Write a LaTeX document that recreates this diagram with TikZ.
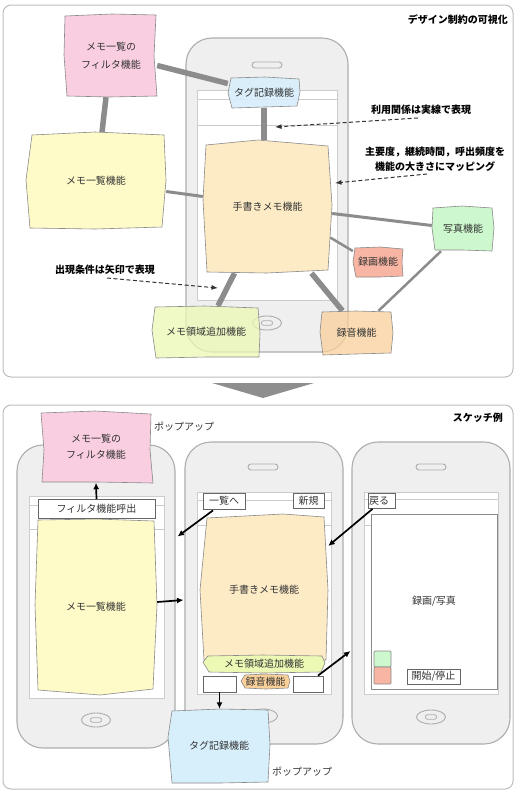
\documentclass[tikz,border=0pt]{standalone}
\usepackage{fontspec}
\setmainfont{Noto Sans CJK JP}
\usetikzlibrary{arrows.meta,shapes.geometric,calc}
\definecolor{pinkc}{HTML}{F9CEE0}
\definecolor{bluec}{HTML}{D7EEFB}
\definecolor{yellowc}{HTML}{FFFBC9}
\definecolor{orangec}{HTML}{FDEBC6}
\definecolor{greenc}{HTML}{CDF7CD}
\definecolor{redc}{HTML}{F8B5A3}
\definecolor{ygc}{HTML}{ECF9B5}
\definecolor{rokuc}{HTML}{F9D09A}
\definecolor{edgec}{HTML}{8A8A8A}
\definecolor{linkc}{HTML}{8C8C8C}
\definecolor{txt}{HTML}{333333}
\definecolor{phonefill}{HTML}{EFEFEF}
\definecolor{phoneedge}{HTML}{ADADAD}
\definecolor{scredge}{HTML}{CCCCCC}
\definecolor{uiedge}{HTML}{666666}
\definecolor{paneledge}{HTML}{BDBDBD}
\definecolor{chevc}{HTML}{8E8E8E}
\pgfdeclarelayer{phonelayer}
\pgfdeclarelayer{linklayer}
\pgfdeclarelayer{shapelayer}
\pgfsetlayers{phonelayer,linklayer,shapelayer,main}
\begin{document}
\begin{tikzpicture}[x=1pt,y=-1pt,
  lbl/.style={font=\fontsize{10}{12}\selectfont, text=txt, inner sep=0pt, align=center},
  skline/.style={draw=edgec, line width=0.6pt, line join=round},
  lnkfat/.style={draw=linkc, line width=5.5pt},
  lnkmid/.style={draw=linkc, line width=3pt},
  lnkthin/.style={draw=linkc, line width=2.5pt},
  ann/.style={font=\bfseries\fontsize{10}{15}\selectfont, text=black, align=center, inner sep=0pt},
  dasharrow/.style={draw=txt, dash pattern=on 4pt off 2.5pt, line width=1pt, -{Latex[length=6.5pt,width=5pt]}},
  blackarrow/.style={draw=black, line width=1.7pt, -{Latex[length=6.5pt,width=6pt]}},
  phonebody/.style={draw=phoneedge, fill=phonefill, line width=1.1pt, rounded corners=26pt, inner sep=0pt},
  scrbox/.style={draw=scredge, fill=white, line width=0.8pt, inner sep=0pt},
  scrline/.style={draw=scredge, line width=0.8pt},
  speaker/.style={draw=phoneedge, fill=phonefill, line width=0.9pt, rounded corners=3pt, minimum width=30pt, minimum height=6pt, inner sep=0pt},
  homebtn/.style={ellipse, draw=phoneedge, fill=phonefill, line width=0.9pt, minimum width=29pt, minimum height=14pt, inner sep=0pt},
  homein/.style={draw=phoneedge, line width=0.8pt, rounded corners=2pt, minimum width=11pt, minimum height=4.5pt, inner sep=0pt},
  uibox/.style={draw=uiedge, fill=white, line width=0.8pt, inner sep=0pt, font=\fontsize{10}{12}\selectfont, text=txt},
  sqbox/.style={draw=edgec, line width=0.7pt, rounded corners=1pt, inner sep=0pt},
  panel/.style={draw=paneledge, fill=white, line width=1pt, rounded corners=8pt},
  poplbl/.style={font=\fontsize{10}{12}\selectfont, text=txt, inner sep=0pt},
]
\useasboundingbox (0,0) rectangle (525,796);

% ---------------- panels and phones ----------------
\begin{pgfonlayer}{phonelayer}
\path[panel] (3,5) rectangle (513,377);
\path[panel] (3,405) rectangle (513,789);
% top phone
\node[phonebody, minimum width=162pt, minimum height=314pt] (phT) at (267,195) {};
\node[scrbox, minimum width=140pt, minimum height=210pt] (scT) at (267,195) {};
\draw[scrline] ([yshift=-10pt]scT.north west) -- ([yshift=-10pt]scT.north east);
\draw[scrline] ([yshift=-36pt]scT.north west) -- ([yshift=-36pt]scT.north east);
\node[speaker] (spT) at (267,65) {};
\node[homebtn] (hbT) at (267,323) {};
\node[homein] (hiT) at (hbT) {};
% bottom left phone
\node[phonebody, minimum width=158pt, minimum height=303pt] (phL) at (96,596.5) {};
\node[scrbox, minimum width=135pt, minimum height=202pt] (scL) at (96.5,597) {};
\draw[scrline] ([yshift=-10pt]scL.north west) -- ([yshift=-10pt]scL.north east);
\draw[scrline] ([yshift=-34pt]scL.north west) -- ([yshift=-34pt]scL.north east);
\node[speaker] (spL) at (96,469) {};
\node[homebtn] (hbL) at (96,720) {};
\node[homein] (hiL) at (hbL) {};
% bottom middle phone
\node[phonebody, minimum width=158pt, minimum height=302pt] (phM) at (264,593) {};
\node[scrbox, minimum width=134pt, minimum height=202pt] (scM) at (264,593) {};
\draw[scrline] ([yshift=-9pt]scM.north west) -- ([yshift=-9pt]scM.north east);
\draw[scrline] ([yshift=-34pt]scM.north west) -- ([yshift=-34pt]scM.north east);
\node[speaker] (spM) at (263,467) {};
\node[homebtn] (hbM) at (263,716) {};
\node[homein] (hiM) at (hbM) {};
% bottom right phone
\node[phonebody, minimum width=158pt, minimum height=302pt] (phR) at (431,593) {};
\node[scrbox, minimum width=134pt, minimum height=202pt] (scR) at (431.5,593) {};
\draw[scrline] ([yshift=-8pt]scR.north west) -- ([yshift=-8pt]scR.north east);
\draw[scrline] ([yshift=-34pt]scR.north west) -- ([yshift=-34pt]scR.north east);
\node[speaker] (spR) at (431,467) {};
\node[homebtn] (hbR) at (431,717) {};
\node[homein] (hiR) at (hbR) {};
\end{pgfonlayer}

% ---------------- titles ----------------
\node[ann, anchor=east] (title1) at (508,20) {デザイン制約の可視化};
\node[ann, anchor=east] (title2) at (503,418) {スケッチ例};

% ---------------- top panel nodes ----------------
\node[lbl, minimum width=92pt, minimum height=83pt, font=\fontsize{10}{18}\selectfont] (P1) at (111,55.5) {メモ一覧の\\フィルタ機能};
\node[lbl, minimum width=72pt, minimum height=31pt] (T1) at (264,92.5) {タグ記録機能};
\node[lbl, minimum width=140pt, minimum height=96pt] (Y1) at (96,180.5) {メモ一覧機能};
\node[lbl, minimum width=129pt, minimum height=133pt] (H1) at (267.5,206.5) {手書きメモ機能};
\node[lbl, minimum width=62pt, minimum height=45pt] (G1) at (463,228.5) {写真機能};
\node[lbl, minimum width=50pt, minimum height=30pt] (R1) at (378,262) {録画機能};
\node[lbl, minimum width=108pt, minimum height=52pt] (M1) at (206,332) {メモ領域追加機能};
\node[lbl, minimum width=73pt, minimum height=44pt] (O1) at (356.5,333) {録音機能};

\begin{pgfonlayer}{shapelayer}
\filldraw[fill=pinkc, skline] (65,16) -- (112,14) -- (156,15) -- (154,56) -- (157,96) -- (110,97) -- (67,96) -- (64,55) -- cycle;
\filldraw[fill=bluec, fill opacity=0.9, skline] (231,78) -- (265,77) -- (299,79) -- (300,92) -- (297,106) -- (265,107) -- (232,108) -- (228,93) -- cycle;
\filldraw[fill=yellowc, skline] (32,135) -- (95,132) -- (164,135) -- (166,180) -- (162,227) -- (95,229) -- (30,228) -- (26,180) -- cycle;
\filldraw[fill=orangec, skline] (206,145) -- (258,140) -- (328,146) -- (332,205) -- (328,270) -- (267,273) -- (207,272) -- (203,200) -- cycle;
\filldraw[fill=greenc, skline] (433,208) -- (462,206) -- (492,208) -- (494,228) -- (492,251) -- (462,250) -- (435,250) -- (432,228) -- cycle;
\filldraw[fill=redc, skline] (355,248) -- (380,247) -- (403,249) -- (402,262) -- (403,276) -- (380,277) -- (356,277) -- (353,262) -- cycle;
\filldraw[fill=ygc, fill opacity=0.75, skline] (155,307) -- (205,306) -- (258,308) -- (260,333) -- (259,357) -- (207,357) -- (156,358) -- (152,330) -- cycle;
\filldraw[fill=rokuc, fill opacity=0.75, skline] (322,312) -- (356,311) -- (391,312) -- (393,333) -- (391,353) -- (356,354) -- (323,355) -- (320,332) -- cycle;
\end{pgfonlayer}

\begin{pgfonlayer}{linklayer}
\draw[lnkfat] ([xshift=-5pt]P1.south) -- ([xshift=6pt]Y1.north);
\draw[lnkfat] ([yshift=-10pt]P1.east) -- ([yshift=9pt]T1.west);
\draw[lnkfat] (T1.south) -- ([xshift=-3.5pt]H1.north);
\draw[lnkmid] ([yshift=-11pt]Y1.east) -- ([yshift=10pt]H1.west);
\draw[lnkmid] ([yshift=-7pt]H1.east) -- ([yshift=3pt]G1.west);
\draw[lnkthin] ([xshift=-2pt,yshift=-31pt]H1.east) -- ([yshift=11pt]R1.west);
\draw[lnkfat] ([xshift=-33pt]H1.south) -- ([xshift=12pt]M1.north);
\draw[lnkfat] ([xshift=44pt]H1.south) -- ([xshift=-14pt]O1.north);
\draw[lnkthin] ([xshift=-22pt]G1.south) -- ([xshift=22pt]O1.north);
\end{pgfonlayer}

% annotations
\node[ann] (A1) at (421,110) {利用関係は実線で表現};
\node[ann] (A2) at (435,159.5) {主要度，継続時間，呼出頻度を\\機能の大きさにマッピング};
\node[ann] (A3) at (105,270) {出現条件は矢印で表現};
\coordinate (tA1) at (275,127);
\coordinate (tA2) at (335,183);
\coordinate (tA3) at (218,288);
\draw[dasharrow] ([xshift=-3pt,yshift=-3pt]A1.south) -- (tA1);
\draw[dasharrow] ([xshift=-8pt,yshift=-2pt]A2.south) -- (tA2);
\draw[dasharrow] ([xshift=2pt,yshift=-3pt]A3.south) -- (tA3);

% chevron
\fill[chevc] (212,383) -- (314,383) -- (263,398) -- cycle;

% ---------------- bottom panel ----------------
% left phone
\node[uibox, minimum width=117pt, minimum height=19pt] (fbtn) at (96.5,509) {フィルタ機能呼出};
\node[lbl, minimum width=114pt, minimum height=71pt, font=\fontsize{10}{16}\selectfont] (P2) at (96,447) {メモ一覧の\\フィルタ機能};
\node[lbl, minimum width=122pt, minimum height=176pt] (Y2) at (96,607) {メモ一覧機能};
\node[poplbl] (pop1) at (184,427) {ポップアップ};
% middle phone
\node[uibox, minimum width=42pt, minimum height=16pt] (btnList) at (224,501) {一覧へ};
\node[uibox, minimum width=31pt, minimum height=15pt] (btnNew) at (308.5,500.5) {新規};
\node[lbl, minimum width=128pt, minimum height=150pt] (H2) at (264,590) {手書きメモ機能};
\node[lbl, minimum width=122pt, minimum height=17pt] (M2) at (264,664) {メモ領域追加機能};
\node[lbl, minimum width=49pt, minimum height=15pt] (O2) at (265.5,681.5) {録音機能};
\node[uibox, minimum width=33pt, minimum height=16pt] (wbL) at (219.5,684) {};
\node[uibox, minimum width=30pt, minimum height=16pt] (wbR) at (308,684) {};
\node[lbl, minimum width=102pt, minimum height=74pt] (B2) at (219,746) {タグ記録機能};
\node[poplbl] (pop2) at (302,772) {ポップアップ};
% right phone
\node[uibox, draw=edgec, minimum width=126pt, minimum height=175pt] (rview) at (434,601.5) {録画/写真};
\node[uibox, minimum width=27pt, minimum height=15pt, text width=25pt, align=left] (btnBack) at (381.5,501) {戻る};
\node[sqbox, fill=greenc, minimum width=17pt, minimum height=16pt] (gsq) at (382.5,659) {};
\node[sqbox, fill=redc, minimum width=17pt, minimum height=17pt] (rsq) at (382.5,675.5) {};
\node[uibox, minimum width=53pt, minimum height=15pt] (btnStart) at (433.5,676.5) {開始/停止};

\begin{pgfonlayer}{shapelayer}
\filldraw[fill=pinkc, skline] (41,413) -- (95,411) -- (151,414) -- (150,450) -- (153,483) -- (97,482) -- (42,482) -- (44,450) -- cycle;
\filldraw[fill=yellowc, skline] (38,520) -- (96,519) -- (154,521) -- (157,605) -- (153,689) -- (100,695) -- (38,690) -- (35,605) -- cycle;
\filldraw[fill=orangec, skline] (207,518) -- (283,514) -- (324,517) -- (328,590) -- (326,660) -- (263,662) -- (204,660) -- (200,590) -- cycle;
\filldraw[fill=ygc, skline] (208,656) -- (263,655) -- (322,656) -- (325,663) -- (321,672) -- (263,673) -- (209,672) -- (203,662) -- cycle;
\filldraw[fill=rokuc, skline] (245,675) -- (266,674) -- (288,675) -- (290,681) -- (288,688) -- (266,689) -- (245,688) -- (241,681) -- cycle;
\filldraw[fill=bluec, skline] (172,711) -- (220,709) -- (268,710) -- (270,745) -- (268,782) -- (220,783) -- (172,783) -- (168,737) -- cycle;
\end{pgfonlayer}

% black arrows
\draw[blackarrow] (fbtn.north) -- (P2.south);
\draw[blackarrow] ([xshift=-11pt,yshift=-1pt]btnList.south) -- ([xshift=2pt,yshift=60pt]phL.east);
\draw[blackarrow] ([xshift=-9pt]btnBack.south) -- ([yshift=44pt]H2.east);
\draw[blackarrow] ([yshift=5pt]Y2.east) -- ([xshift=-1pt,yshift=-7pt]phM.west);
\draw[blackarrow] (wbL.south) -- ([xshift=0.5pt]B2.north);
\draw[blackarrow] ([xshift=10pt]wbR.north) -- ([xshift=-1pt,yshift=-58pt]phR.west);
\end{tikzpicture}
\end{document}
